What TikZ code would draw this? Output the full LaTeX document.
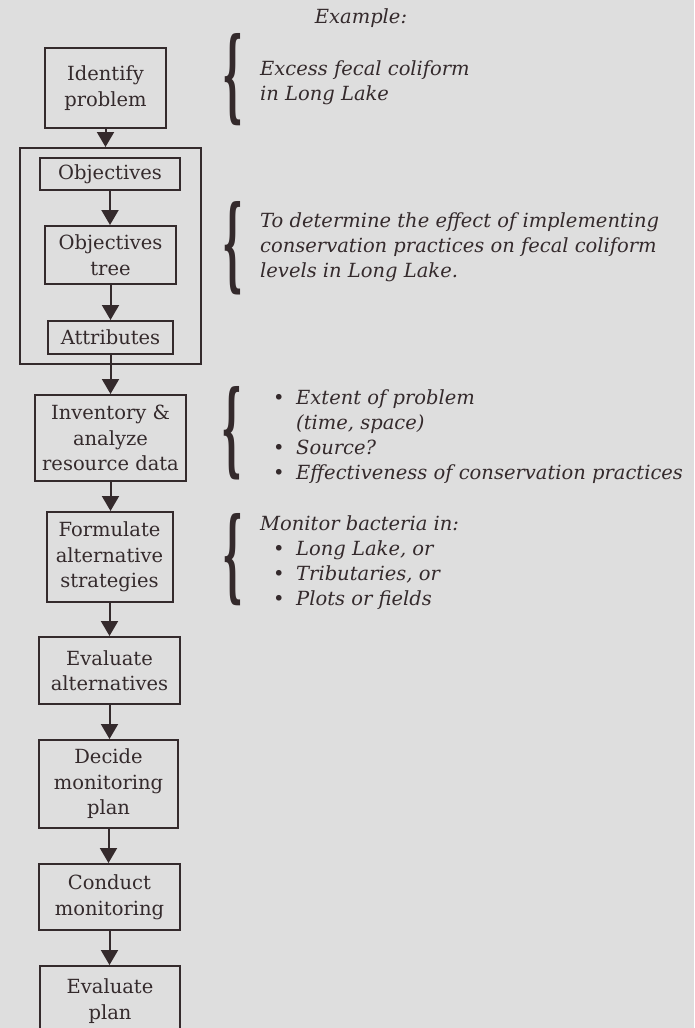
\documentclass[tikz,border=0pt]{standalone}
\usepackage{fontspec}
\setmainfont{DejaVu Serif}
\usetikzlibrary{arrows.meta}
\definecolor{bg}{RGB}{222,222,222}
\definecolor{ink}{RGB}{52,42,44}
\tikzset{
  box/.style={draw=ink, line width=2pt, fill=bg, text=ink, align=center, inner sep=0pt,
    font=\fontsize{19.5}{25.5}\selectfont},
  frame/.style={draw=ink, line width=2pt, inner sep=0pt},
  flow/.style={draw=ink, line width=2pt, -{Triangle[width=17pt,length=15pt]}},
  note/.style={text=ink, align=left, anchor=west, inner sep=0pt,
    font=\fontsize{19.5}{25}\selectfont\itshape},
  bracegl/.style={text=ink, inner sep=0pt, font=\bfseries}
}
\newcommand{\bul}{\makebox[36pt][l]{\hspace{13pt}\textbullet}}
\begin{document}
\begin{tikzpicture}[x=1pt,y=-1pt]
\fill[bg] (0,0) rectangle (694,1028);
\useasboundingbox (0,0) rectangle (694,1028);
\clip (0,0) rectangle (694,1028);

% outer frame
\node[frame, minimum width=181pt, minimum height=216pt] (frame) at (110.5,256) {};

% boxes
\node[box, minimum width=121pt, minimum height=80pt] (ident) at (105.5,88) {Identify\\problem};
\node[box, minimum width=140pt, minimum height=32pt] (obj) at (110,174) {Objectives};
\node[box, minimum width=131pt, minimum height=58pt] (tree) at (110.5,255) {Objectives\\tree};
\node[box, minimum width=125pt, minimum height=33pt] (attr) at (110.5,337.5) {Attributes};
\node[box, minimum width=151pt, minimum height=86pt] (inv) at (110.5,438) {Inventory \&\\analyze\\resource data};
\node[box, minimum width=126pt, minimum height=90pt] (form) at (109.5,557) {Formulate\\alternative\\strategies};
\node[box, minimum width=141pt, minimum height=67pt] (evalt) at (109.5,670.5) {Evaluate\\alternatives};
\node[box, minimum width=139pt, minimum height=88pt] (decide) at (108.5,784) {Decide\\monitoring\\plan};
\node[box, minimum width=141pt, minimum height=66pt] (conduct) at (109.5,897) {Conduct\\monitoring};
\node[box, minimum width=140pt, minimum height=70pt] (evplan) at (110,1001) {Evaluate\\plan};

% connectors
\draw[flow] (ident.south) -- (ident.south |- frame.north);
\draw[flow] (obj.south) -- (obj.south |- tree.north);
\draw[flow] (tree.south) -- (tree.south |- attr.north);
\draw[flow] (attr.south) -- (attr.south |- inv.north);
\draw[flow] (inv.south) -- (inv.south |- form.north);
\draw[flow] (form.south) -- (form.south |- evalt.north);
\draw[flow] (evalt.south) -- (evalt.south |- decide.north);
\draw[flow] (decide.south) -- (decide.south |- conduct.north);
\draw[flow] (conduct.south) -- (conduct.south |- evplan.north);

% example column
\node[note, anchor=center] (ex) at (361,18) {Example:};

\node[bracegl] (b1) at (232.5,80) {\resizebox{21pt}{76pt}{\{}};
\node[note] (t1) at (260,82.5) {Excess fecal coliform\\in Long Lake};

\node[bracegl] (b2) at (232.5,248.5) {\resizebox{21pt}{77pt}{\{}};
\node[note] (t2) at (260,247) {To determine the effect of implementing\\conservation practices on fecal coliform\\levels in Long Lake.};

\node[bracegl] (b3) at (232,433.5) {\resizebox{21pt}{77pt}{\{}};
\node[note] (t3) at (260,436.5) {\bul Extent of problem\\\hspace*{36pt}(time, space)\\\bul Source?\\\bul Effectiveness of conservation practices};

\node[bracegl] (b4) at (232.5,560) {\resizebox{21pt}{76pt}{\{}};
\node[note] (t4) at (260,563) {Monitor bacteria in:\\\bul Long Lake, or\\\bul Tributaries, or\\\bul Plots or fields};
\end{tikzpicture}
\end{document}
